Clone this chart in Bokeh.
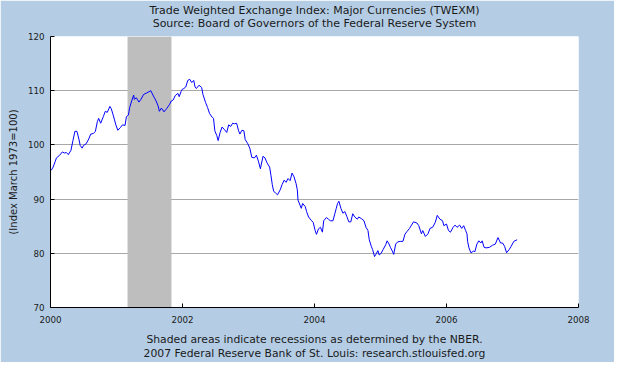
from bokeh.plotting import figure
from bokeh.models import Range1d, FixedTicker, LinearAxis
from bokeh.embed import file_html
from bokeh.resources import INLINE

# ---- data ----
years = [
    2000.01, 2000.04, 2000.07, 2000.09, 2000.13, 2000.18, 2000.21, 2000.24, 2000.27, 2000.31,
    2000.34, 2000.37, 2000.40, 2000.43, 2000.45, 2000.48, 2000.50, 2000.54, 2000.58, 2000.61,
    2000.65, 2000.68, 2000.71, 2000.73, 2000.76, 2000.80, 2000.83, 2000.86, 2000.90, 2000.92,
    2000.95, 2000.97, 2000.99, 2001.02, 2001.06, 2001.09, 2001.13, 2001.15, 2001.18, 2001.20,
    2001.23, 2001.26, 2001.27, 2001.30, 2001.34, 2001.37, 2001.41, 2001.46, 2001.52, 2001.56,
    2001.60, 2001.63, 2001.65, 2001.68, 2001.72, 2001.76, 2001.80, 2001.83, 2001.86, 2001.89,
    2001.93, 2001.95, 2001.98, 2002.00, 2002.02, 2002.05, 2002.08, 2002.11, 2002.14, 2002.17,
    2002.19, 2002.21, 2002.25, 2002.29, 2002.31, 2002.35, 2002.38, 2002.41, 2002.45, 2002.47,
    2002.49, 2002.52, 2002.54, 2002.57, 2002.60, 2002.63, 2002.67, 2002.70, 2002.73, 2002.76,
    2002.79, 2002.82, 2002.85, 2002.87, 2002.90, 2002.93, 2002.95, 2002.99, 2003.02, 2003.05,
    2003.09, 2003.12, 2003.15, 2003.18, 2003.22, 2003.25, 2003.28, 2003.32, 2003.34, 2003.36,
    2003.38, 2003.41, 2003.44, 2003.48, 2003.51, 2003.54, 2003.57, 2003.60, 2003.63, 2003.66,
    2003.69, 2003.72, 2003.74, 2003.75, 2003.80, 2003.82, 2003.86, 2003.88, 2003.91, 2003.95,
    2003.98, 2004.01, 2004.03, 2004.06, 2004.09, 2004.12, 2004.14, 2004.18, 2004.21, 2004.24,
    2004.28, 2004.31, 2004.33, 2004.35, 2004.37, 2004.40, 2004.43, 2004.46, 2004.49, 2004.52,
    2004.55, 2004.58, 2004.61, 2004.65, 2004.67, 2004.71, 2004.75, 2004.78, 2004.81, 2004.83,
    2004.86, 2004.88, 2004.91, 2004.93, 2004.96, 2004.98, 2005.01, 2005.04, 2005.08, 2005.10,
    2005.13, 2005.15, 2005.18, 2005.20, 2005.23, 2005.26, 2005.30, 2005.34, 2005.37, 2005.40,
    2005.44, 2005.47, 2005.50, 2005.55, 2005.58, 2005.62, 2005.64, 2005.68, 2005.72, 2005.75,
    2005.79, 2005.83, 2005.86, 2005.90, 2005.94, 2005.96, 2006.00, 2006.03, 2006.06, 2006.10,
    2006.13, 2006.16, 2006.20, 2006.23, 2006.26, 2006.29, 2006.31, 2006.32, 2006.34, 2006.37,
    2006.41, 2006.43, 2006.46, 2006.49, 2006.52, 2006.54, 2006.57, 2006.60, 2006.65, 2006.70,
    2006.74, 2006.78, 2006.82, 2006.85, 2006.88, 2006.91, 2006.95, 2006.98, 2007.02, 2007.07,
]
twexm = [
    95.3, 95.9, 96.9, 97.6, 98.0, 98.7, 98.5, 98.6, 98.2, 99.0,
    100.8, 102.5, 102.5, 101.1, 99.9, 99.4, 99.9, 100.2, 101.1, 102.0,
    102.1, 102.5, 104.3, 104.9, 104.0, 105.2, 106.2, 106.0, 107.1, 106.7,
    105.5, 104.6, 103.7, 102.7, 103.2, 103.7, 103.6, 105.2, 105.5, 106.9,
    108.1, 109.2, 108.4, 108.7, 107.9, 108.4, 109.3, 109.6, 110.0, 109.0,
    108.1, 107.2, 106.2, 106.8, 106.1, 106.7, 107.4, 108.1, 108.3, 109.1,
    109.5, 108.9, 109.9, 110.3, 110.4, 110.7, 111.9, 112.1, 111.5, 111.9,
    110.7, 110.4, 111.0, 110.6, 109.3, 107.8, 106.9, 105.8, 105.1, 104.9,
    102.6, 101.7, 100.8, 102.3, 103.3, 102.9, 102.3, 103.7, 103.4, 104.0,
    103.9, 104.0, 102.6, 102.0, 102.7, 102.6, 101.0, 100.2, 99.4, 97.7,
    97.6, 98.1, 97.0, 95.6, 97.9, 97.6, 96.7, 95.9, 94.4, 92.7,
    91.5, 91.1, 90.8, 91.7, 92.7, 93.5, 93.1, 93.8, 93.4, 94.8,
    94.1, 92.9, 91.7, 89.8, 88.3, 89.2, 88.6, 87.7, 86.7, 86.1,
    85.7, 84.2, 83.5, 84.5, 84.8, 83.9, 86.0, 86.6, 86.3, 86.0,
    86.0, 87.4, 88.3, 89.2, 89.6, 88.3, 87.4, 87.7, 86.8, 85.8,
    85.8, 87.3, 86.7, 86.3, 86.7, 86.4, 86.0, 84.8, 84.2, 82.5,
    81.3, 80.7, 79.4, 79.8, 80.5, 79.7, 80.0, 80.7, 81.6, 82.3,
    81.7, 81.1, 80.4, 79.8, 81.7, 82.1, 82.2, 82.2, 83.5, 84.0,
    84.6, 85.2, 85.8, 85.6, 85.1, 83.6, 84.2, 83.1, 83.6, 84.6,
    84.8, 85.7, 87.0, 86.3, 86.0, 85.1, 85.4, 84.2, 83.9, 84.8,
    85.2, 84.8, 85.2, 84.6, 85.1, 84.2, 83.6, 82.2, 81.0, 80.1,
    80.4, 80.3, 81.7, 82.3, 81.9, 82.3, 81.1, 81.0, 81.1, 81.5,
    81.7, 82.9, 81.9, 81.9, 81.3, 80.1, 80.7, 81.3, 82.2, 82.5,
]
recession_start = [2001.167]
recession_end = [2001.833]
x_ticks = [2000, 2002, 2004, 2006, 2008]
y_ticks = [70, 80, 90, 100, 110, 120]

title_line1 = "Trade Weighted Exchange Index: Major Currencies (TWEXM)"
title_line2 = "Source: Board of Governors of the Federal Reserve System"
footer_line1 = "Shaded areas indicate recessions as determined by the NBER."
footer_line2 = "2007 Federal Reserve Bank of St. Louis: research.stlouisfed.org"
y_label = "(Index March 1973=100)"

# ---- style ----
BG = "#B4CDE5"
FONT = "DejaVu Sans"
TXT = "#1a1a1a"

p = figure(width=614, height=362, output_backend="svg", toolbar_location=None,
           title=None,
           x_range=Range1d(2000, 2008), y_range=Range1d(70, 120),
           min_border_left=50, min_border_right=36,
           min_border_top=36, min_border_bottom=53,
           background_fill_color="white", border_fill_color=BG,
           outline_line_color=None)

# recession shading
p.quad(left=recession_start, right=recession_end, bottom=[70], top=[120],
       fill_color="#BEBEBE", line_color=None)

# series
p.line(years, twexm, line_color="#0000FF", line_width=1)

# axes
p.xaxis.ticker = FixedTicker(ticks=x_ticks)
p.yaxis.ticker = FixedTicker(ticks=y_ticks)
for ax in (p.xaxis[0], p.yaxis[0]):
    ax.axis_line_color = "black"
    ax.axis_line_width = 1
    ax.major_tick_line_color = "black"
    ax.major_tick_in = 4
    ax.major_tick_out = 0
    ax.minor_tick_line_color = None
    ax.major_label_text_font = FONT
    ax.major_label_text_font_size = "8.7px"
    ax.major_label_text_color = TXT
p.xaxis.major_label_standoff = 8
p.yaxis.major_label_standoff = 6

p.yaxis.axis_label = y_label
p.yaxis.axis_label_text_font = FONT
p.yaxis.axis_label_text_font_size = "10px"
p.yaxis.axis_label_text_font_style = "normal"
p.yaxis.axis_label_text_color = TXT
p.yaxis.axis_label_standoff = 6

# footer as the x axis label (two lines)
p.xaxis.axis_label = footer_line1 + "\n" + footer_line2
p.xaxis.axis_label_text_font = FONT
p.xaxis.axis_label_text_font_size = "10.8px"
p.xaxis.axis_label_text_font_style = "normal"
p.xaxis.axis_label_text_color = TXT
p.xaxis.axis_label_text_line_height = 1.1
p.xaxis.axis_label_standoff = 7

# title as the label of a bare axis above the plot (two lines)
top_axis = LinearAxis(ticker=FixedTicker(ticks=[]), axis_line_color=None,
                      major_tick_in=0, major_tick_out=0, minor_tick_line_color=None,
                      major_label_standoff=0,
                      axis_label=title_line1 + "\n" + title_line2,
                      axis_label_text_font=FONT, axis_label_text_font_size="11px",
                      axis_label_text_font_style="normal", axis_label_text_color=TXT,
                      axis_label_text_line_height=1.0, axis_label_standoff=7)
p.add_layout(top_axis, "above")

p.xgrid.grid_line_color = None
p.ygrid.grid_line_color = "#A8A8A8"
p.ygrid.grid_line_width = 1

open("out.html", "w").write(file_html(p, INLINE))
